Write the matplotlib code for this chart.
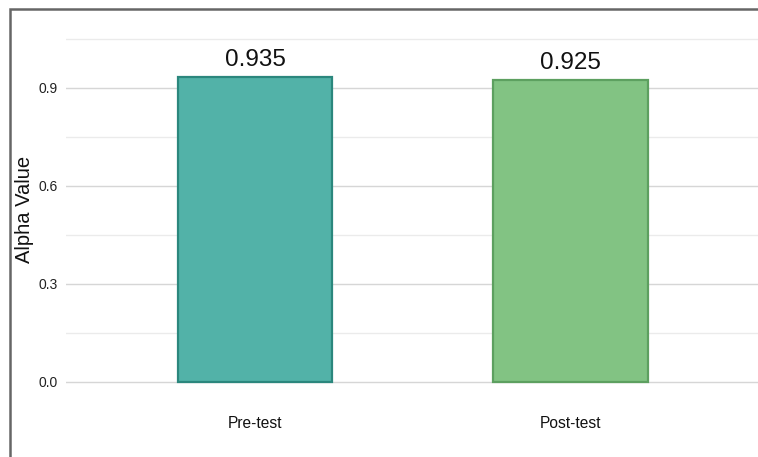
import matplotlib
matplotlib.use("Agg")
import matplotlib.pyplot as plt
from matplotlib.patches import Rectangle

categories = ["Pre-test", "Post-test"]
alpha_values = [0.935, 0.925]
bar_labels = ["0.935", "0.925"]
y_ticks = [0.0, 0.3, 0.6, 0.9]
y_minor = [0.15, 0.45, 0.75, 1.05]
fill_colors = ["#52b2a8", "#82c383"]
edge_colors = ["#2b877d", "#5da060"]

plt.rcParams['font.family'] = ['Liberation Sans', 'DejaVu Sans']

fig = plt.figure(figsize=(7.58, 4.57), dpi=100)
ax = fig.add_axes([66/758, 1 - 398/457, 1 - 66/758 + 0.002, (398 - 20)/457])

x = [1, 2]
ax.set_xlim(0.4, 2.6)
ax.set_ylim(-0.049, 1.108)

for v in y_ticks:
    ax.axhline(v, color="#d6d6d6", lw=1.0, zorder=0)
for v in y_minor:
    ax.axhline(v, color="#ebebeb", lw=1.0, zorder=0)

ax.bar(x, alpha_values, width=0.49, color=fill_colors, edgecolor=edge_colors,
       linewidth=1.6, zorder=2)
for xi, v, lab in zip(x, alpha_values, bar_labels):
    ax.text(xi, v + 0.017, lab, ha="center", va="bottom", fontsize=17.5, color="#111111")

ax.set_xticks(x)
ax.set_xticklabels(categories, fontsize=11.2, color="#111111")
ax.set_yticks(y_ticks)
ax.set_yticklabels([f"{v:.1f}" for v in y_ticks], fontsize=10, color="#222222")
ax.tick_params(axis="both", length=0)
ax.tick_params(axis="x", pad=13)
ax.tick_params(axis="y", pad=6)
ax.set_ylabel("Alpha Value", fontsize=14.5, color="#111111")
ax.yaxis.set_label_coords(-(66 - 34) / (758 - 66), 0.5)
for s in ax.spines.values():
    s.set_visible(False)

# outer frame (cropped screenshot border on left and top)
fig.patches.append(Rectangle((10/758, -0.1), 1.2, 1 - 9/457 + 0.1, transform=fig.transFigure,
                             fill=False, edgecolor="#666666", lw=1.8))

fig.savefig("out.png", dpi=100)
